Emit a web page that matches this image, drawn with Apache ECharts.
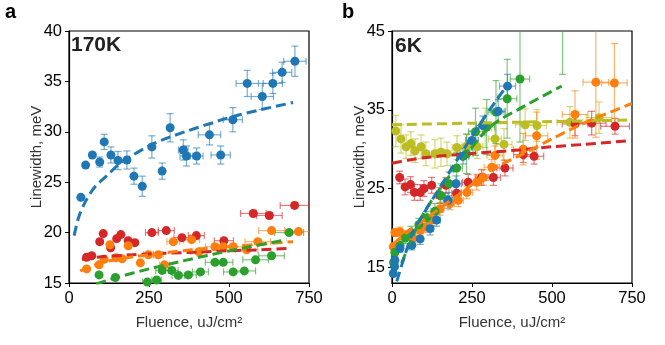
<!DOCTYPE html>
<html>
<head>
<meta charset="utf-8">
<script src="https://cdn.jsdelivr.net/npm/echarts@6/dist/echarts.min.js"></script>
<style>
  html, body { margin: 0; padding: 0; background: #fff; }
  #chart { width: 665px; height: 345px; }
</style>
</head>
<body>
<div id="chart"></div>
<script>
// points: [fluence, linewidth, xErr, yErr]
const a170Blue = [[37,23.5,0,0],[52,26.7,0,0],[73,27.7,0,0],[96,27.0,0,0.5],[110,29.0,0,0.75],[131,27.7,0,0.8],
  [153,27.15,0,0.9],[181,27.2,0,0.9],[203,25.6,0,0.8],[229,24.6,0,1.0],[259,28.5,0,1.1],[291,26.1,0,0.8],
  [316,30.4,0,1.4],[357,28.2,15,1.0],[367,27.6,20,1.0],[399,27.6,20,0.8],[439,29.7,35,1.0],[474,27.7,30,0.9],
  [512,31.2,30,1.2],[557,34.8,35,1.3],[604,33.5,35,1.3],[637,34.8,30,1.0],[666,35.9,30,1.0],[706,37.0,35,1.5]];
const a170Red = [[55,17.55,0,0.2],[71,17.7,0,0.2],[96,19.1,0,0.2],[107,19.9,0,0.2],[130,18.5,0,0.2],[149,19.4,0,0.2],
  [162,19.8,0,0.2],[185,19.2,0,0.2],[206,19.0,0,0.2],[259,20.0,20,0.2],[304,20.2,25,0.2],[353,19.5,25,0.2],
  [398,19.7,25,0.2],[484,19.2,30,0.2],[576,21.9,40,0.3],[626,21.7,40,0.3],[705,22.7,45,0.3]];
const a170Orange = [[55,16.4,0,0.2],[94,16.8,0,0.2],[110,17.35,0,0.2],[128,18.8,0,0.2],[147,17.5,0,0.2],[166,17.4,0,0.2],
  [185,18.7,0,0.2],[223,17.0,0,0.2],[248,17.8,15,0.2],[279,17.8,15,0.2],[298,16.8,15,0.2],[326,19.1,20,0.2],
  [383,19.3,25,0.2],[406,18.1,25,0.2],[456,18.6,30,0.2],[482,18.6,30,0.2],[513,18.6,30,0.2],[555,18.3,35,0.2],
  [590,19.1,40,0.2],[633,20.2,40,0.2],[717,20.1,40,0.2]];
const a170Green = [[94,15.8,0,0.2],[145,15.55,0,0.2],[245,15.1,15,0.2],[274,15.3,15,0.2],[291,16.25,20,0.2],
  [321,16.25,20,0.2],[342,15.75,20,0.2],[373,15.8,25,0.2],[411,16.1,25,0.2],[456,17.05,30,0.2],[482,17.05,30,0.2],
  [513,16.1,30,0.2],[548,16.2,35,0.2],[583,17.3,40,0.2],[633,17.7,40,0.2],[688,20.0,45,0.2]];

const b6Olive = [[12,32.3,3,2.0],[28,31.3,4,1.8],[44,30.3,5,1.5],[59,30.7,6,1.5],[72,29.8,7,1.5],[91,30.3,8,1.5],
  [106,29.4,10,1.5],[134,29.4,10,1.8],[153,29.6,12,1.8],[172,29.4,12,1.5],[203,30.2,15,1.5],[234,30.4,15,1.5],
  [266,30.3,18,1.5],[291,32.7,20,2.5],[322,31.3,20,2.0],[350,30.6,25,2.0],[416,33.1,30,2.0],[453,33.0,30,2.0],
  [556,33.4,40,2.0],[647,34.0,40,2.0]];
const b6Red = [[24,26.4,3,0.8],[41,25.2,5,1.0],[58,25.5,6,1.0],[70,24.5,7,1.0],[88,24.5,8,1.0],[100,25.0,9,1.0],
  [124,25.4,10,1.0],[150,24.1,12,1.0],[169,25.4,14,1.0],[202,24.4,15,1.0],[238,25.8,18,1.0],[280,26.4,20,1.0],
  [317,26.4,22,1.0],[353,27.6,25,1.0],[410,29.3,30,1.0],[444,29.1,30,1.0],[572,33.2,40,1.5],[624,33.3,45,1.5],
  [697,32.9,45,1.0]];
const b6Green = [[5,15.6,1,0.5],[9,16.9,1,0.5],[25,17.8,3,0.7],[41,18.7,4,0.7],[59,19.4,6,0.8],[84,20.4,8,0.8],
  [109,21.3,10,0.8],[134,22.1,12,1.0],[153,24.1,14,1.5],[178,25.6,15,1.5],[202,27.6,18,2.0],[233,29.4,20,2.5],
  [261,32.2,22,3.0],[296,32.8,25,3.5],[325,34.7,25,4.0],[360,36.4,30,5.0],[400,38.9,30,8.0],[533,47,30,7.5]];
const b6Blue = [[4,14.2,1,0.3],[8,15.1,1,0.3],[9,15.9,1,0.4],[25,17.4,3,0.5],[62,17.8,6,0.6],[88,18.6,8,0.7],
  [119,19.9,10,0.8],[139,21.0,12,0.8],[175,23.5,15,1.0],[200,25.6,17,1.0],[222,29.1,18,1.0],[250,31.1,20,1.2],
  [284,33.0,20,1.2],[332,34.8,22,1.5],[361,38.0,25,1.5]];
const b6Orange = [[4,17.6,1,0.5],[9,19.4,1,0.5],[25,19.5,3,0.6],[46,19.1,5,0.6],[67,18.7,6,0.6],[88,19.7,8,0.6],
  [103,20.1,9,0.7],[125,21.0,10,0.7],[150,22.4,12,0.8],[181,23.1,14,0.8],[207,23.5,16,0.8],[234,24.5,18,0.8],
  [265,25.8,20,1.0],[285,26.4,22,1.0],[312,27.7,24,1.0],[322,29.2,25,1.2],[410,30.0,30,2.0],[452,31.7,35,3.0],
  [572,34.4,40,3.0],[637,38.5,40,7.0],[695,38.4,40,5.0]];

// fitted curves
const a170BlueFit = [[16,19.7],[30,21.5],[50,23.0],[80,24.5],[120,25.7],[160,26.9],[200,27.7],[250,28.6],
  [300,29.3],[400,30.4],[500,31.4],[600,32.2],[700,32.9]];
const a170RedFit = [[40,17.35],[100,17.6],[200,17.8],[300,17.95],[400,18.05],[500,18.2],[600,18.3],[690,18.45]];
const a170OrangeFit = [[35,16.2],[100,17.0],[200,17.6],[300,18.0],[400,18.35],[500,18.6],[600,18.85],[700,19.1]];
const a170GreenFit = [[85,14.9],[150,15.55],[250,16.4],[350,17.15],[450,17.85],[550,18.5],[680,19.3]];
const b6OliveFit = [[0,33.1],[250,33.3],[500,33.5],[750,33.7]];
const b6RedFit = [[0,28.2],[50,28.6],[100,28.9],[200,29.3],[300,29.6],[400,29.9],[500,30.3],[600,30.6],[750,31.1]];
const b6BlueFit = [[15,13.2],[40,16.5],[66,19.5],[100,21.9],[140,24.5],[206,28.8],[280,33.5],[363,38.3]];
const b6GreenFit = [[30,15.5],[60,18.5],[98,21.8],[150,25.0],[202,27.7],[306,32.8],[420,35.6],[530,38.0]];
const b6OrangeFit = [[5,18.0],[50,19.5],[100,21.0],[150,22.5],[200,24.0],[250,25.5],[306,27.3],[410,29.4],
  [500,31.3],[600,33.3],[750,35.8]];

const xTicks = [0, 250, 500, 750];
const yTicksA = [15, 20, 25, 30, 35, 40];
const yTicksB = [15, 25, 35, 45];

const C = { blue: '#1f77b4', orange: '#ff7f0e', green: '#2ca02c', red: '#d62728', olive: '#bcbd22' };
const fontFam = 'Liberation Sans, Arial, sans-serif';

function errorBars(data, color, idx) {
  return {
    type: 'custom', xAxisIndex: idx, yAxisIndex: idx, clip: true, silent: true, z: 2,
    data: data,
    renderItem(params, api) {
      const x = api.value(0), y = api.value(1), xe = api.value(2), ye = api.value(3);
      const kids = [];
      const st = { stroke: color, lineWidth: 1.2, opacity: 0.6 };
      const cap = 3.5;
      if (ye > 0) {
        const t = api.coord([x, y + ye]), b = api.coord([x, y - ye]);
        kids.push({ type: 'line', shape: { x1: t[0], y1: t[1], x2: b[0], y2: b[1] }, style: st });
        kids.push({ type: 'line', shape: { x1: t[0] - cap, y1: t[1], x2: t[0] + cap, y2: t[1] }, style: st });
        kids.push({ type: 'line', shape: { x1: b[0] - cap, y1: b[1], x2: b[0] + cap, y2: b[1] }, style: st });
      }
      if (xe > 0) {
        const l = api.coord([x - xe, y]), r = api.coord([x + xe, y]);
        kids.push({ type: 'line', shape: { x1: l[0], y1: l[1], x2: r[0], y2: r[1] }, style: st });
        kids.push({ type: 'line', shape: { x1: l[0], y1: l[1] - cap, x2: l[0], y2: l[1] + cap }, style: st });
        kids.push({ type: 'line', shape: { x1: r[0], y1: r[1] - cap, x2: r[0], y2: r[1] + cap }, style: st });
      }
      return { type: 'group', children: kids };
    }
  };
}
function dots(data, color, idx) {
  return {
    type: 'scatter', xAxisIndex: idx, yAxisIndex: idx, clip: true, z: 3,
    symbolSize: 9, itemStyle: { color: color, opacity: 1 },
    data: data.map(d => [d[0], d[1]])
  };
}
function fit(data, color, idx) {
  return {
    type: 'line', xAxisIndex: idx, yAxisIndex: idx, clip: true, z: 4, smooth: 0.3,
    showSymbol: false, symbol: 'none',
    lineStyle: { color: color, width: 3, type: [10, 5] },
    data: data
  };
}
function xAx(idx) {
  return {
    gridIndex: idx, type: 'value', min: 0, max: 750, interval: 250,
    name: 'Fluence, uJ/cm²', nameLocation: 'middle', nameGap: 32, nameMoveOverlap: false,
    nameTextStyle: { color: '#333', fontSize: 15, fontFamily: fontFam },
    axisLine: { show: true, lineStyle: { color: '#000', width: 1.2 } },
    axisTick: { show: true, length: 4, lineStyle: { color: '#000' }, customValues: xTicks },
    axisLabel: { color: '#000', fontSize: 16.5, fontFamily: fontFam, margin: 7, customValues: xTicks },
    splitLine: { show: false }
  };
}
function yAx(idx, min, max, ticks) {
  return {
    gridIndex: idx, type: 'value', min: min, max: max,
    name: 'Linewidth, meV', nameLocation: 'middle', nameGap: 25, nameMoveOverlap: false,
    nameTextStyle: { color: '#333', fontSize: 15, fontFamily: fontFam },
    axisLine: { show: true, lineStyle: { color: '#000', width: 1.2 } },
    axisTick: { show: true, length: 4, lineStyle: { color: '#000' }, customValues: ticks },
    axisLabel: { color: '#000', fontSize: 16.5, fontFamily: fontFam, margin: 7, customValues: ticks },
    splitLine: { show: false }
  };
}

const chart = echarts.init(document.getElementById('chart'), null, { renderer: 'canvas' });
const series = [];
[[a170Blue, C.blue], [a170Red, C.red], [a170Orange, C.orange], [a170Green, C.green]].forEach(([d, c]) => {
  series.push(errorBars(d, c, 0)); series.push(dots(d, c, 0));
});
[[b6Olive, C.olive], [b6Red, C.red], [b6Orange, C.orange], [b6Green, C.green], [b6Blue, C.blue]].forEach(([d, c]) => {
  series.push(errorBars(d, c, 1)); series.push(dots(d, c, 1));
});
[[a170BlueFit, C.blue], [a170RedFit, C.red], [a170OrangeFit, C.orange], [a170GreenFit, C.green]].forEach(([d, c]) => {
  series.push(fit(d, c, 0));
});
[[b6OliveFit, C.olive], [b6RedFit, C.red], [b6OrangeFit, C.orange], [b6GreenFit, C.green], [b6BlueFit, C.blue]].forEach(([d, c]) => {
  series.push(fit(d, c, 1));
});

chart.setOption({
  animation: false,
  backgroundColor: '#fff',
  grid: [
    { left: 69, top: 31, width: 240, height: 252, show: true, borderColor: '#000', borderWidth: 1.2, backgroundColor: 'transparent' },
    { left: 392, top: 31, width: 240, height: 252, show: true, borderColor: '#000', borderWidth: 1.2, backgroundColor: 'transparent' }
  ],
  xAxis: [xAx(0), xAx(1)],
  yAxis: [yAx(0, 15, 40, yTicksA), yAx(1, 13, 45, yTicksB)],
  graphic: [
    { type: 'text', left: 5, top: 2, style: { text: 'a', font: 'bold 20px ' + fontFam, fill: '#000' } },
    { type: 'text', left: 342, top: 2, style: { text: 'b', font: 'bold 20px ' + fontFam, fill: '#000' } },
    { type: 'text', left: 71, top: 35, z: 10, style: { text: '170K', font: 'bold 21px ' + fontFam, fill: '#222' } },
    { type: 'text', left: 395, top: 36, z: 10, style: { text: '6K', font: 'bold 21px ' + fontFam, fill: '#222' } }
  ],
  series: series
});
</script>
</body>
</html>
